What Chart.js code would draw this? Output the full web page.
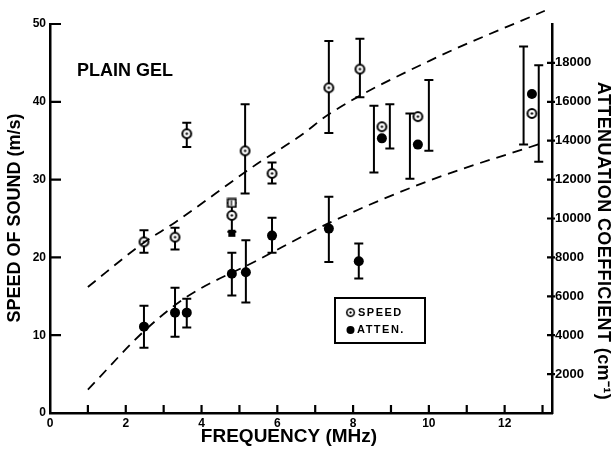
<!DOCTYPE html>
<html>
<head>
<meta charset="utf-8">
<script src="https://cdn.jsdelivr.net/npm/chart.js@4.4.0/dist/chart.umd.min.js"></script>
<style>
    html, body { margin: 0; padding: 0; background: #fff; }
    #wrap { width: 616px; height: 449px; }
</style>
</head>
<body>
<div id="wrap"><canvas id="gelChart" width="616" height="449"></canvas></div>
<script>
// Speed of sound (m/s), open circles; error bars drawn slightly right of the points
const speedFreq    = [2.48, 3.30, 3.61, 4.80, 5.15, 5.86, 7.36, 8.18, 8.76, 9.71, 12.72];
const speedVal     = [22.0, 22.6, 35.9, 25.4, 33.7, 30.8, 41.8, 44.2, 36.8, 38.1, 38.5];
const speedLow     = [20.6, 21.0, 34.2, 23.3, 28.2, 29.5, 36.0, 40.6, 34.0, 33.7, 32.3];
const speedHigh    = [23.5, 23.8, 37.3, 27.0, 39.7, 32.2, 47.8, 48.1, 39.7, 42.8, 44.7];
const speedBarFreq = [2.48, 3.30, 3.61, 4.80, 5.15, 5.86, 7.36, 8.18, 8.97, 10.0, 12.9];

// Attenuation coefficient (cm^-1), filled circles
const attenFreq    = [2.48, 3.30, 3.61, 4.80, 5.17, 5.86, 7.36, 8.15, 8.76, 9.71, 12.72];
const attenVal     = [4440, 5160, 5160, 7160, 7240, 9120, 9480, 7800, 14120, 13800, 16400];
const attenLow     = [3360, 3920, 4400, 6040, 5680, 8240, 7760, 6920, 12360, 12040, 13800];
const attenHigh    = [5520, 6440, 5880, 8240, 8880, 10040, 11120, 8720, 15800, 15400, 18840];
const attenBarFreq = [2.48, 3.30, 3.61, 4.80, 5.17, 5.86, 7.36, 8.15, 8.55, 9.50, 12.5];

// the two square markers at 4.8 MHz
const openSquareFreq = [4.80];
const openSquareVal  = [27.0];   // m/s
const fillSquareFreq = [4.80];
const fillSquareVal  = [9240];   // cm^-1

// dashed curves
const speedCurveFreq = [1.0, 2.45, 3.3, 5.46, 6.6, 7.39, 10.03, 13.06];
const speedCurveVal  = [16.2, 21.8, 24.5, 32.0, 35.6, 38.5, 45.3, 51.7];
const attenCurveFreq = [1.0, 2.5, 3.6, 5.46, 7.4, 10.03, 13.06];
const attenCurveVal  = [1200, 4240, 5960, 7840, 9800, 11960, 13920];

const FONT = '"Liberation Sans", Arial, sans-serif';

function pts(xs, ys) {
    return xs.map((x, i) => ({ x: x, y: ys[i] }));
}

// marker: open circle with a dot in the middle
function makeSpeedMarker() {
    const c = document.createElement('canvas');
    c.width = 13; c.height = 13;
    const g = c.getContext('2d');
    g.beginPath();
    g.arc(6.5, 6.5, 4.4, 0, Math.PI * 2);
    g.fillStyle = '#fff';
    g.fill();
    g.lineWidth = 2;
    g.strokeStyle = '#000';
    g.stroke();
    g.beginPath();
    g.arc(6.5, 6.5, 1.2, 0, Math.PI * 2);
    g.fillStyle = '#000';
    g.fill();
    return c;
}

function makeOpenSquare() {
    const c = document.createElement('canvas');
    c.width = 11; c.height = 11;
    const g = c.getContext('2d');
    g.fillStyle = '#fff';
    g.fillRect(1.5, 1.5, 8, 8);
    g.lineWidth = 1.8;
    g.strokeStyle = '#000';
    g.strokeRect(1.5, 1.5, 8, 8);
    g.fillStyle = '#000';
    g.fillRect(4.5, 3, 1.2, 5);
    return c;
}

const speedMarker = makeSpeedMarker();
const openSquare = makeOpenSquare();

// error bars, drawn underneath the markers
const errorBars = {
    id: 'errorBars',
    beforeDatasetsDraw(chart) {
        const ctx = chart.ctx;
        const x = chart.scales.x;
        const sets = [
            { axis: chart.scales.y, fx: speedBarFreq, lo: speedLow, hi: speedHigh },
            { axis: chart.scales.y2, fx: attenBarFreq, lo: attenLow, hi: attenHigh }
        ];
        ctx.save();
        ctx.strokeStyle = '#000';
        ctx.lineWidth = 2;
        sets.forEach(s => {
            s.fx.forEach((f, i) => {
                const px = x.getPixelForValue(f);
                const top = s.axis.getPixelForValue(s.hi[i]);
                const bot = s.axis.getPixelForValue(s.lo[i]);
                ctx.beginPath();
                ctx.moveTo(px, top);
                ctx.lineTo(px, bot);
                ctx.moveTo(px - 4.5, top);
                ctx.lineTo(px + 4.5, top);
                ctx.moveTo(px - 4.5, bot);
                ctx.lineTo(px + 4.5, bot);
                ctx.stroke();
            });
        });
        ctx.restore();
    }
};

// inward tick marks, titles and the boxed legend
const decorations = {
    id: 'decorations',
    afterDraw(chart) {
        const ctx = chart.ctx;
        const x = chart.scales.x, y = chart.scales.y, y2 = chart.scales.y2;
        const area = chart.chartArea;
        ctx.save();
        ctx.setLineDash([]);
        ctx.strokeStyle = '#000';
        ctx.lineWidth = 2.2;
        ctx.beginPath();
        for (let f = 1; f <= 13; f++) {
            const px = x.getPixelForValue(f);
            ctx.moveTo(px, area.bottom);
            ctx.lineTo(px, area.bottom - 8);
        }
        for (let v = 10; v <= 50; v += 10) {
            const py = y.getPixelForValue(v);
            ctx.moveTo(area.left, py);
            ctx.lineTo(area.left + 11, py);
        }
        for (let v = 2000; v <= 18000; v += 2000) {
            const py = y2.getPixelForValue(v);
            ctx.moveTo(area.right - 5, py);
            ctx.lineTo(area.right + 3, py);
        }
        ctx.stroke();

        ctx.fillStyle = '#000';
        ctx.textAlign = 'center';
        ctx.textBaseline = 'middle';

        ctx.font = 'bold 19px ' + FONT;
        ctx.fillText('FREQUENCY (MHz)', 289, 437);

        ctx.save();
        ctx.translate(15, 218);
        ctx.rotate(-Math.PI / 2);
        ctx.font = 'bold 18px ' + FONT;
        ctx.fillText('SPEED OF SOUND (m/s)', 0, 0);
        ctx.restore();

        ctx.save();
        ctx.translate(603, 241);
        ctx.rotate(Math.PI / 2);
        ctx.font = 'bold 18px ' + FONT;
        ctx.letterSpacing = '0.4px';
        ctx.fillText('ATTENUATION COEFFICIENT (cm\u207B\u00B9)', 0, 0);
        ctx.restore();

        ctx.textAlign = 'left';
        ctx.font = 'bold 18px ' + FONT;
        ctx.fillText('PLAIN GEL', 77, 71);

        // legend box
        ctx.lineWidth = 2;
        ctx.strokeRect(335, 298, 90, 45);
        ctx.drawImage(speedMarker, 345, 307, 11, 11);
        ctx.beginPath();
        ctx.arc(350.5, 330, 4, 0, Math.PI * 2);
        ctx.fill();
        ctx.font = 'bold 11px ' + FONT;
        ctx.letterSpacing = '1.5px';
        ctx.fillText('SPEED', 358, 313);
        ctx.fillText('ATTEN.', 357, 330);
        ctx.restore();
    }
};

const ctx = document.getElementById('gelChart');

new Chart(ctx, {
    type: 'scatter',
    data: {
        datasets: [
            {
                type: 'line',
                data: pts(speedCurveFreq, speedCurveVal),
                yAxisID: 'y',
                borderColor: '#000',
                borderWidth: 1.8,
                borderDash: [10, 7],
                pointRadius: 0,
                cubicInterpolationMode: 'monotone',
                fill: false,
                clip: false
            },
            {
                type: 'line',
                data: pts(attenCurveFreq, attenCurveVal),
                yAxisID: 'y2',
                borderColor: '#000',
                borderWidth: 1.8,
                borderDash: [10, 7],
                pointRadius: 0,
                cubicInterpolationMode: 'monotone',
                fill: false,
                clip: false
            },
            {
                data: pts(speedFreq, speedVal),
                yAxisID: 'y',
                pointStyle: speedMarker
            },
            {
                data: pts(attenFreq, attenVal),
                yAxisID: 'y2',
                pointStyle: 'circle',
                pointRadius: 5,
                backgroundColor: '#000',
                borderColor: '#000',
                borderWidth: 0
            },
            {
                data: pts(openSquareFreq, openSquareVal),
                yAxisID: 'y',
                pointStyle: openSquare
            },
            {
                data: pts(fillSquareFreq, fillSquareVal),
                yAxisID: 'y2',
                pointStyle: 'rect',
                pointRadius: 5,
                backgroundColor: '#000',
                borderColor: '#000',
                borderWidth: 0
            }
        ]
    },
    options: {
        responsive: false,
        animation: false,
        devicePixelRatio: 1,
        layout: { padding: { top: 24, left: 0, right: 0, bottom: 0 } },
        plugins: {
            legend: { display: false },
            tooltip: { enabled: false }
        },
        scales: {
            x: {
                type: 'linear',
                min: 0,
                max: 13.25,
                grid: { display: false, drawTicks: false },
                border: { display: true, color: '#000', width: 2.5 },
                ticks: {
                    stepSize: 1,
                    includeBounds: false,
                    autoSkip: false,
                    maxRotation: 0,
                    padding: 3,
                    color: '#000',
                    font: { family: FONT, weight: 'bold', size: 12 },
                    callback: v => (v % 2 === 0 ? String(v) : '')
                },
                afterFit: s => { s.height = 36; }
            },
            y: {
                position: 'left',
                min: 0,
                max: 50,
                grid: { display: false, drawTicks: false },
                border: { display: true, color: '#000', width: 2.5 },
                ticks: {
                    stepSize: 10,
                    padding: 4,
                    color: '#000',
                    font: { family: FONT, weight: 'bold', size: 12 },
                    callback: v => String(v)
                },
                afterFit: s => { s.width = 50; }
            },
            y2: {
                position: 'right',
                min: 0,
                max: 20000,
                grid: { display: false, drawTicks: false },
                border: { display: true, color: '#000', width: 2.5 },
                ticks: {
                    stepSize: 2000,
                    padding: 3,
                    color: '#000',
                    font: { family: FONT, weight: 'bold', size: 13 },
                    callback: v => (v === 0 || v === 20000 ? '' : String(v))
                },
                afterFit: s => { s.width = 64; }
            }
        }
    },
    plugins: [errorBars, decorations]
});
</script>
</body>
</html>
